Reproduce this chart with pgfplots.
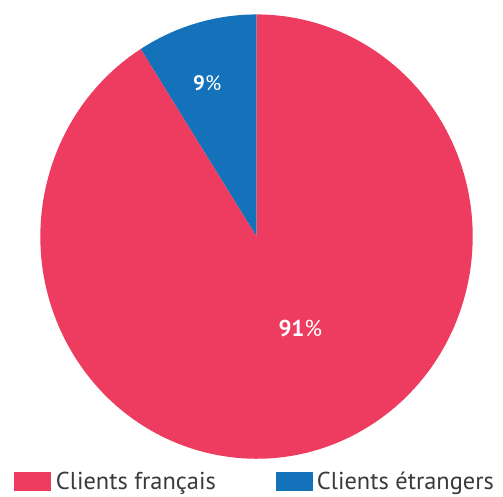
\documentclass[border=0pt]{standalone}
\usepackage{pgfplots}
\pgfplotsset{compat=1.18}
\usepackage{fontspec}
\setmainfont{PT Sans}
\definecolor{cred}{RGB}{238,60,96}
\definecolor{cblue}{RGB}{19,114,186}
\definecolor{cgray}{RGB}{58,58,58}
\begin{document}
\begin{tikzpicture}
\def\vA{91}\def\vB{9}
\pgfmathsetmacro{\aB}{90+\vB*3.6}
\begin{axis}[hide axis, x=1pt, y=1pt, xmin=0, xmax=503, ymin=0, ymax=498,
  scale only axis, clip=false]
\path (axis cs:0,0) rectangle (axis cs:503,498);
\fill[cblue] (axis cs:257.5,260.5) -- (axis cs:257.5,483.5) arc[start angle=90, end angle=\aB, x radius=217pt, y radius=223pt] -- cycle;
\fill[cred] (axis cs:257.5,260.5) -- (axis cs:{257.5+217*cos(\aB)},{260.5+223*sin(\aB)}) arc[start angle=\aB, end angle=450, x radius=217pt, y radius=223pt] -- cycle;
\node[white, anchor=base, inner sep=0pt, font=\fontsize{21}{25}\selectfont] at (axis cs:208,407.3) {\textbf{\vB}\%};
\node[white, anchor=base, inner sep=0pt, font=\fontsize{23}{27}\selectfont] at (axis cs:301.5,160.3) {\textbf{\vA}\%};
\fill[cred] (axis cs:14,5.5) rectangle (axis cs:51,24.5);
\fill[cblue] (axis cs:277,5.5) rectangle (axis cs:314,24.5);
\node[cgray, anchor=base west, inner sep=0pt, font=\fontsize{24.5}{29}\selectfont] at (axis cs:56,6.8) {Clients français};
\node[cgray, anchor=base west, inner sep=0pt, font=\fontsize{24.5}{29}\selectfont] at (axis cs:318,6.8) {Clients étrangers};
\end{axis}
\end{tikzpicture}
\end{document}
